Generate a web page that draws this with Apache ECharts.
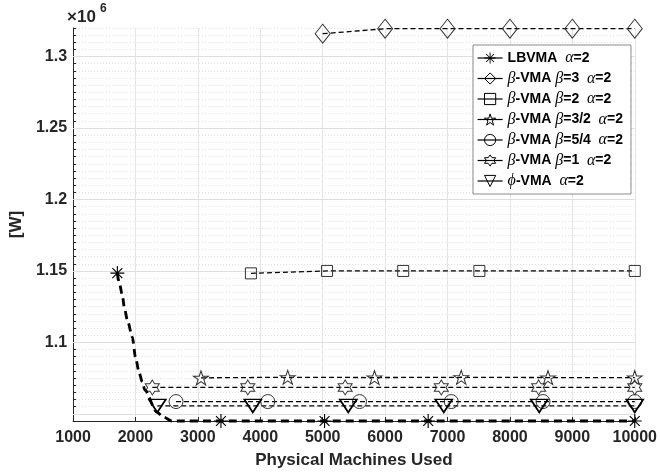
<!DOCTYPE html>
<html>
<head>
<meta charset="utf-8">
<script src="https://cdn.jsdelivr.net/npm/echarts@6/dist/echarts.min.js"></script>
<style>
  html, body { margin: 0; padding: 0; background: #fff; }
  #chart { width: 660px; height: 474px; }
</style>
</head>
<body>
<div id="chart"></div>
<script>
// Power consumption [W] (in units of 1e6) versus number of physical machines used

// LBVMA alpha=2: dashed curve; markers only on the listed indices
const lbX = [1710, 1740, 1790, 1820, 1870, 1950, 2000, 2060, 2110, 2150, 2340, 2450, 2580, 3370, 5030, 6690, 10000];
const lbY = [1.1485, 1.1416, 1.1332, 1.1248, 1.1157, 1.1038, 1.0898, 1.0786, 1.0723, 1.0667, 1.0513, 1.0478, 1.045, 1.045, 1.045, 1.045, 1.045];
const lbMarkIdx = [0, 13, 14, 15, 16];

// beta-VMA beta=3 alpha=2
const b3X = [5000, 6000, 7000, 8000, 9000, 10000];
const b3Y = [1.316, 1.3195, 1.3195, 1.3195, 1.3195, 1.3195];

// beta-VMA beta=2 alpha=2
const b2X = [3850, 5070, 6290, 7510, 10000];
const b2Y = [1.1483, 1.15, 1.15, 1.15, 1.15];

// beta-VMA beta=3/2 alpha=2
const b32X = [3050, 4440, 5830, 7220, 8610, 10000];
const b32Y = [1.0752, 1.0756, 1.0754, 1.0756, 1.0754, 1.0754];

// beta-VMA beta=5/4 alpha=2
const b54X = [2650, 4120, 5590, 7060, 8530, 10000];
const b54Y = [1.0586, 1.0586, 1.0586, 1.0586, 1.0586, 1.0586];

// beta-VMA beta=1 alpha=2
const b1X = [2270, 3800, 5360, 6900, 8460, 10000];
const b1Y = [1.0685, 1.0685, 1.0685, 1.0685, 1.0685, 1.0685];

// phi-VMA alpha=2
const phiX = [2350, 3880, 5410, 6940, 8470, 10000];
const phiY = [1.0556, 1.0556, 1.0556, 1.0556, 1.0556, 1.0556];

// Axis ranges and labelled ticks
const xTicks = [1000, 2000, 3000, 4000, 5000, 6000, 7000, 8000, 9000, 10000];
const yMajor = [1.1, 1.15, 1.2, 1.25, 1.3];
const yMin = 1.045, yMax = 1.32;

const names = [
  'LBVMA α=2',
  'β-VMA β=3 α=2',
  'β-VMA β=2 α=2',
  'β-VMA β=3/2 α=2',
  'β-VMA β=5/4 α=2',
  'β-VMA β=1 α=2',
  'ϕ-VMA α=2'
];

const SYM = {
  // eight-armed asterisk built from thin filled bars
  asterisk: 'path://M-0.8,-10L0.8,-10L0.8,10L-0.8,10Z' +
            'M-10,-0.8L10,-0.8L10,0.8L-10,0.8Z' +
            'M-6.5,-7.64L7.64,6.5L6.5,7.64L-7.64,-6.5Z' +
            'M-7.64,6.5L6.5,-7.64L7.64,-6.5L-6.5,7.64Z',
  pentagram: 'path://M0,-10L2.245,-3.09L9.511,-3.09L3.633,1.18L5.878,8.09L0,3.82L-5.878,8.09L-3.633,1.18L-9.511,-3.09L-2.245,-3.09Z',
  hexagram: 'path://M0,-10L2.887,-5L8.66,-5L5.774,0L8.66,5L2.887,5L0,10L-2.887,5L-8.66,5L-5.774,0L-8.66,-5L-2.887,-5Z',
  triDown: 'path://M0,0L20,0L10,16Z'
};

const FONT = 'Liberation Sans, Arial, sans-serif';
const AX = '#262626';

function zip(xs, ys) { return xs.map((x, i) => [x, ys[i]]); }

function dashedSeries(name, xs, ys, symbol, size, color, bw) {
  return {
    name, type: 'line', data: zip(xs, ys), clip: false,
    symbol, symbolSize: size, showAllSymbol: true,
    lineStyle: { color: '#000', width: 1.3, type: [5, 3] },
    itemStyle: { color: 'rgba(0,0,0,0)', borderColor: color, borderWidth: bw },
    emphasis: { disabled: true }, z: 3
  };
}

const lbData = lbX.map((x, i) => lbMarkIdx.includes(i)
  ? { value: [x, lbY[i]] }
  : { value: [x, lbY[i]], symbol: 'none' });

const series = [
  {
    name: names[0], type: 'line', data: lbData, clip: false,
    smooth: 0.25, smoothMonotone: 'x',
    symbol: SYM.asterisk, symbolSize: 14, showAllSymbol: true,
    lineStyle: { color: '#000', width: 2.8, type: [8, 5] },
    itemStyle: { color: '#000', borderWidth: 0 },
    emphasis: { disabled: true }, z: 4
  },
  dashedSeries(names[1], b3X, b3Y, 'diamond', [15, 19], '#333', 1),
  dashedSeries(names[2], b2X, b2Y, 'rect', [11, 11], '#333', 1),
  dashedSeries(names[3], b32X, b32Y, SYM.pentagram, [15, 14], '#333', 1),
  dashedSeries(names[4], b54X, b54Y, 'circle', [14, 14], '#333', 1),
  dashedSeries(names[5], b1X, b1Y, SYM.hexagram, [14, 15], '#333', 1),
  dashedSeries(names[6], phiX, phiY, SYM.triDown, [17, 13], '#000', 1.6),
  {
    // solid major horizontal grid lines, kept beneath the data and legend
    name: 'grid-major', type: 'line', data: [], silent: true, z: 1,
    markLine: {
      z: 1, silent: true, symbol: 'none', label: { show: false },
      lineStyle: { color: '#dedede', type: 'solid', width: 1 },
      data: [1.05].concat(yMajor).map(v => ({ yAxis: v }))
    }
  }
];

// Legend label: Latin parts bold sans, Greek letters italic serif
function legendLabel(n) {
  return n.replace(/ (?=α)/, '  ').split(/([αβϕ])/).filter(s => s !== '').map(s =>
    /^[αβϕ]$/.test(s) ? '{g|' + s + '}' : '{b|' + s + '}'
  ).join('');
}

const legendItems = names.map((n, i) => i === 0
  ? { name: n, itemStyle: { color: '#000', borderWidth: 0 } }
  : { name: n });

const chart = echarts.init(document.getElementById('chart'), null, { renderer: 'canvas' });
chart.setOption({
  animation: false,
  backgroundColor: '#fff',
  grid: { left: 65, right: 25, top: 28, bottom: 53 },
  xAxis: {
    type: 'value', min: xTicks[0], max: xTicks[xTicks.length - 1], interval: 1000,
    name: 'Physical Machines Used', nameLocation: 'middle', nameGap: 31,
    nameTextStyle: { fontFamily: FONT, fontWeight: 'bold', fontSize: 17, color: AX },
    axisLine: { lineStyle: { color: AX, width: 1 } },
    axisTick: { inside: true, length: 4, lineStyle: { color: AX } },
    axisLabel: { fontFamily: FONT, fontWeight: 'bold', fontSize: 16, color: AX, margin: 9, formatter: v => String(v) },
    splitLine: { show: true, lineStyle: { color: '#e4e4e4', type: 'solid' } }
  },
  yAxis: {
    type: 'value', min: yMin, max: yMax, interval: 0.005,
    name: '[W]', nameLocation: 'middle', nameGap: 42, nameRotate: 90,
    nameTextStyle: { fontFamily: FONT, fontWeight: 'bold', fontSize: 17, color: AX },
    axisLine: { show: true, lineStyle: { color: AX, width: 1 } },
    axisTick: { show: true, inside: true, length: 3, interval: 0, lineStyle: { color: AX } },
    axisLabel: {
      interval: 0, fontFamily: FONT, fontWeight: 'bold', fontSize: 16, color: AX, margin: 6,
      formatter: v => {
        const k = Math.round(v * 1000);
        return yMajor.some(m => Math.round(m * 1000) === k) ? String(+v.toFixed(2)) : '';
      }
    },
    splitLine: { show: true, lineStyle: { color: '#e2e2e2', type: [1, 2] } }
  },
  legend: {
    z: 20,
    orient: 'vertical', left: 473, top: 45,
    data: legendItems,
    itemWidth: 25, itemHeight: 14, itemGap: 4.5,
    padding: [5, 8, 5, 4],
    backgroundColor: '#fff', borderColor: '#8a8a8a', borderWidth: 1,
    lineStyle: { type: 'solid', width: 1.2, color: '#000' },
    itemStyle: { color: 'rgba(0,0,0,0)', borderColor: '#000', borderWidth: 1 },
    textStyle: {
      fontFamily: FONT, fontWeight: 'bold', fontSize: 14, color: '#000',
      rich: {
        b: { fontFamily: FONT, fontWeight: 'bold', fontSize: 14, color: '#000' },
        g: { fontFamily: 'Liberation Serif, DejaVu Serif, serif', fontStyle: 'italic', fontWeight: 'normal', fontSize: 16, color: '#000' }
      }
    },
    formatter: legendLabel
  },
  graphic: [
    { type: 'text', left: 67, top: 9, style: { text: '×10', font: 'bold 17px ' + FONT, fill: AX } },
    { type: 'text', left: 100, top: 3, style: { text: '6', font: 'bold 12px ' + FONT, fill: AX } }
  ],
  series
});
</script>
</body>
</html>
